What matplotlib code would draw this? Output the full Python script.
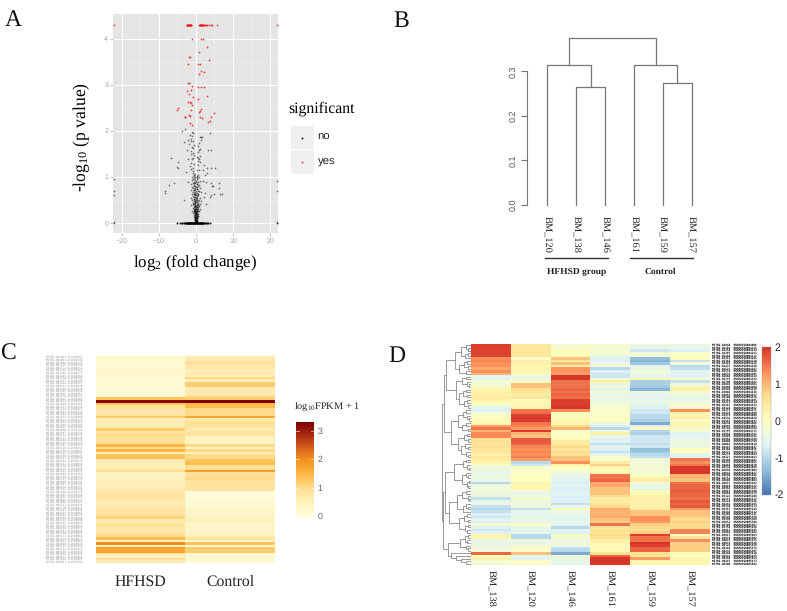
#!/usr/bin/env python3
import matplotlib
matplotlib.use("Agg")
import matplotlib.pyplot as plt
from matplotlib.colors import LinearSegmentedColormap
from matplotlib.patches import Rectangle
import numpy as np

plt.rcParams["text.hinting"] = "no_hinting"

W, H = 787, 611
SERIF = "Liberation Serif"
SANS = "Liberation Sans"
MONO = "DejaVu Sans Mono"

# panel A: volcano points
no_x = [
    -3.05, -3.6, -1.1, -0.8, 3.9, -1.5, -1.0, 1.0, 1.35, 1.6,
    -1.2, -2.2, -1.3, -0.9, 1.3, 0.9, -3.1, -1.8, -0.6, 0.7,
    -1.0, -0.7, 1.0, 0.8, -2.4, -1.2, 3.4, 4.2, 0.6, -0.9,
    -1.3, -0.5, 1.2, 0.4, -0.9, 0.6, -6.6, -2.1, -1.0, 0.8,
    0.5, 1.0, -4.7, -1.2, -0.4, 0.7, -1.6, 2.2, 3.1, -0.8,
    -5.0, -4.9, 5.2, 4.1, -1.3, 0.3, 0.9, -0.7, 1.8, 3.0,
    -2.6, -0.9, -0.3, 0.5, 2.4, -0.6, -1.0, 0.2, 0.9, -0.4,
    -0.7, 0.4, -1.1, 1.2, 0.1, -0.5, 1.9, 2.8, -2.0, 0.6,
    -0.9, -0.2, 0.3, -1.3, 0.8, -6.0, -7.3, -0.6, 4.2, 6.2,
    -0.4, 0.5, -1.0, 0.2, 1.1, -0.7, 4.3, 4.6, 6.1, -8.2,
    -0.3, 0.4, -1.2, -0.5, 0.1, 0.9, -8.3, -0.8, 1.4, 2.5,
    0.3, -0.3, -0.6, 0.7, -1.0, 0.05, 6.5, 7.1, 4.0, 4.8,
    -0.15, 0.5, -0.8, 0.25, -0.4, 1.0, -1.4, 0.1, 2.3, 3.9,
    -0.6, 0.35, -0.2, 0.75, -1.1, -3.1, 0.05, -0.45, 1.3, 0.5,
    -0.25, 0.15, -0.7, 0.6, -0.1, 0.3, -0.9, 1.0, 2.7, -0.35,
    0.2, -0.5, 0.45, -0.15, 0.05, -1.3, 0.8, -0.3, 0.3, -0.6,
    0.1, 0.55, -0.2, -0.85, 0.25, -0.05, 0.7, -0.4, 0.15, 1.2,
    -0.55, 0.35, -0.15, 0.0, 0.5, -0.3, -1.0, 0.2, -0.1, 0.85,
    -0.45, 0.1, 0.4, -0.2, -0.7, 0.25, 0.0, -0.35, 0.6, -0.05,
    0.15, -0.25, 0.3, -0.55, -0.1, 0.05, 0.45, -0.3, 0.2, -0.15,
    -0.4, 0.1, 0.3, -0.05, 0.0, -0.2, 0.2, -0.35, 0.4, 0.08,
    -0.1, -0.25, 0.15, 0.28, -0.02, -0.15, 0.05, 0.2, -0.3, 0.35,
    -0.2, 0.1, -0.08, 0.02, 0.18, -0.12, 0.26, -0.28, 0.06, -0.04,
    21.9, 21.9, 21.9, 21.9, -22.0, -22.0, -22.0, -22.0, 21.9, -22.0,
    -0.5, 0.2, -0.3, 0.4, -0.1, 0.1, -0.4, 0.3, -0.2, 0.0,
    -0.35, 0.25, -0.6, 0.45, -0.15, 0.15, -0.45, 0.35, -0.25, 0.05,
    -0.4, 0.3, -0.1, 0.2, -0.5, 0.5, -0.3, 0.1, -0.2, 0.4,
    -0.55, 0.15, -0.35, 0.25, -0.05, 0.45, -0.25, 0.35, -0.15, 0.05,
]
no_y = [
    2.03, 2.0, 1.98, 1.96, 1.96, 1.91, 1.89, 1.87, 1.86, 1.87,
    1.82, 1.8, 1.78, 1.78, 1.8, 1.74, 1.75, 1.72, 1.7, 1.68,
    1.65, 1.62, 1.6, 1.58, 1.58, 1.56, 1.58, 1.58, 1.55, 1.52,
    1.5, 1.48, 1.46, 1.44, 1.42, 1.4, 1.4, 1.39, 1.38, 1.38,
    1.35, 1.33, 1.32, 1.3, 1.28, 1.26, 1.24, 1.25, 1.2, 1.2,
    1.22, 1.2, 1.2, 1.2, 1.18, 1.16, 1.15, 1.12, 1.15, 1.08,
    1.1, 1.08, 1.06, 1.05, 1.05, 1.03, 1.0, 1.0, 1.0, 0.98,
    0.96, 0.95, 0.93, 0.92, 0.92, 0.9, 0.92, 0.9, 0.88, 0.88,
    0.86, 0.86, 0.85, 0.84, 0.83, 0.86, 0.82, 0.82, 0.86, 0.86,
    0.8, 0.8, 0.78, 0.78, 0.77, 0.76, 0.8, 0.8, 0.76, 0.7,
    0.74, 0.73, 0.72, 0.71, 0.7, 0.7, 0.66, 0.68, 0.68, 0.66,
    0.66, 0.65, 0.64, 0.63, 0.62, 0.61, 0.64, 0.62, 0.6, 0.62,
    0.6, 0.6, 0.58, 0.57, 0.56, 0.55, 0.55, 0.54, 0.56, 0.56,
    0.53, 0.52, 0.51, 0.5, 0.5, 0.5, 0.49, 0.48, 0.48, 0.47,
    0.46, 0.45, 0.44, 0.44, 0.43, 0.42, 0.42, 0.42, 0.42, 0.41,
    0.4, 0.39, 0.38, 0.38, 0.37, 0.38, 0.36, 0.36, 0.35, 0.35,
    0.34, 0.34, 0.33, 0.33, 0.32, 0.31, 0.31, 0.3, 0.3, 0.3,
    0.29, 0.29, 0.28, 0.27, 0.27, 0.26, 0.27, 0.26, 0.25, 0.25,
    0.24, 0.24, 0.23, 0.23, 0.22, 0.22, 0.21, 0.21, 0.2, 0.2,
    0.19, 0.19, 0.18, 0.18, 0.17, 0.17, 0.16, 0.16, 0.15, 0.15,
    0.14, 0.14, 0.13, 0.13, 0.12, 0.12, 0.11, 0.11, 0.1, 0.1,
    0.09, 0.09, 0.08, 0.08, 0.07, 0.07, 0.06, 0.06, 0.06, 0.05,
    0.05, 0.05, 0.04, 0.04, 0.04, 0.03, 0.03, 0.03, 0.02, 0.02,
    0.92, 0.7, 0.0, 0.01, 0.95, 0.7, 0.0, 0.6, 0.02, 0.02,
    1.05, 1.02, 0.99, 0.97, 0.94, 0.9, 0.87, 0.84, 0.81, 0.79,
    0.76, 0.74, 0.72, 0.69, 0.67, 0.64, 0.62, 0.59, 0.57, 0.55,
    0.52, 0.5, 0.47, 0.45, 0.43, 0.4, 0.37, 0.34, 0.31, 0.28,
    0.26, 0.24, 0.22, 0.2, 0.18, 0.16, 0.13, 0.11, 0.08, 0.06,
]
zero_x = [
    -5.0, -4.2, -3.8, -3.6, -3.2, -3.0, -2.8, -2.6, -2.5, -2.4,
    -2.3, -2.2, -2.1, -2.0, -1.9, -1.8, -1.7, -1.6, -1.5, -1.4,
    -1.3, -1.2, -1.1, -1.0, -0.9, -0.8, -0.7, -0.6, -0.5, -0.4,
    -0.3, -0.2, -0.1, 0.0, 0.1, 0.2, 0.3, 0.4, 0.5, 0.6,
    0.7, 0.8, 0.9, 1.0, 1.1, 1.2, 1.3, 1.4, 1.5, 1.6,
    1.7, 1.8, 1.9, 2.0, 2.2, 2.4, 2.6, 2.9, 3.2, 3.7,
]
zero_y = [0.0] * len(zero_x)
yes_x = [
    -1.0, 1.45, 1.8, 3.0, 0.9, -1.5, -1.8, 3.5, -2.1, 0.7,
    1.2, 1.4, 2.2, 0.9, -2.1, -1.8, -1.1, 0.7, 1.4, 2.2,
    -2.4, -1.2, -1.8, -0.9, 3.05, 0.7, -2.1, -1.5, -1.25, -1.1,
    -4.8, -5.0, -1.3, 1.45, 0.9, 4.95, -1.8, -1.45, -3.05, 1.2,
    3.95, 1.7, 3.7, 3.3, -1.7, -1.1, -2.8, 1.0, -2.5, -2.4,
    -2.3, -2.2, -2.1, -2.0, -1.9, -1.8, -1.7, -1.6, -1.5, -1.4,
    -1.3, -1.2, 0.9, 1.0, 1.1, 1.2, 1.3, 1.4, 1.5, 1.6,
    1.7, 1.8, 1.9, 2.0, 2.2, 2.5, 2.8, 3.1, 3.5, 4.0,
    4.4, 5.8, -22.0, 21.9,
]
yes_y = [
    4.0, 4.0, 4.0, 3.82, 3.7, 3.6, 3.6, 3.53, 3.46, 3.46,
    3.46, 3.3, 3.27, 3.23, 3.04, 3.03, 2.97, 2.96, 2.94, 2.96,
    2.86, 2.88, 2.79, 2.74, 2.75, 2.7, 2.63, 2.63, 2.61, 2.55,
    2.5, 2.45, 2.45, 2.47, 2.41, 2.38, 2.34, 2.33, 2.29, 2.29,
    2.31, 2.27, 2.22, 2.2, 2.18, 2.13, 2.31, 2.42, 4.3, 4.3,
    4.3, 4.3, 4.3, 4.3, 4.3, 4.3, 4.3, 4.3, 4.3, 4.3,
    4.3, 4.3, 4.3, 4.3, 4.3, 4.3, 4.3, 4.3, 4.3, 4.3,
    4.3, 4.3, 4.3, 4.3, 4.3, 4.3, 4.3, 4.3, 4.3, 4.3,
    4.3, 4.3, 4.3, 4.3,
]

# panel B: sample clustering
b_samples = ["BM_120", "BM_138", "BM_146", "BM_161", "BM_159", "BM_157"]
b_merge_heights = {"m138_146": 0.265, "hfhsd": 0.314, "m159_157": 0.274, "control": 0.3135, "root": 0.375}
b_ticks = [0.0, 0.1, 0.2, 0.3]

# panel C: mean expression per gene
c_groups = ["HFHSD", "Control"]
c_hfhsd = [
    0.15, 0.15, 0.15, 0.2, 0.15, 0.25, 0.2, 0.25, 0.1, 0.1,
    0.1, 0.1, 0.05, 0.05, 0.05, 0.05, 1.3, 3.2, 1.3, 0.9,
    0.8, 0.6, 0.7, 1.2, 0.5, 0.6, 0.5, 0.7, 1.2, 0.8,
    1.0, 0.9, 0.8, 0.9, 1.5, 1.0, 1.5, 0.6, 1.3, 1.4,
    0.6, 0.5, 0.5, 0.6, 0.9, 0.4, 0.4, 0.5, 0.5, 0.5,
    0.5, 0.6, 0.8, 0.8, 0.8, 0.7, 0.6, 0.6, 0.7, 0.8,
    0.8, 0.9, 1.1, 0.6, 0.7, 0.9, 0.7, 0.7, 0.8, 1.0,
    1.4, 0.5, 2.0, 0.5, 1.7, 1.7, 0.7, 0.4, 0.9, 0.6,
]
c_control = [
    0.6, 0.6, 0.9, 0.7, 0.7, 0.5, 0.6, 0.6, 1.0, 0.5,
    1.2, 1.2, 0.6, 0.6, 0.6, 0.9, 1.2, 3.3, 1.5, 1.4,
    1.0, 1.0, 1.0, 1.7, 0.6, 0.9, 0.9, 0.8, 0.6, 0.8,
    0.8, 0.4, 0.4, 0.4, 1.0, 0.5, 1.0, 0.5, 1.0, 1.0,
    1.3, 1.4, 0.9, 0.9, 1.8, 0.9, 0.9, 1.0, 0.8, 0.8,
    0.8, 0.8, 0.05, 0.05, 0.05, 0.05, 0.15, 0.15, 0.15, 0.3,
    0.3, 0.3, 0.4, 0.5, 0.2, 0.3, 0.3, 0.3, 0.4, 0.5,
    0.8, 0.3, 1.3, 0.3, 1.2, 1.2, 0.2, 0.2, 0.2, 0.1,
]
c_ticks = [0, 1, 2, 3]

# panel D: z-scores per sample, row order as drawn
d_samples = ["BM_138", "BM_120", "BM_146", "BM_161", "BM_159", "BM_157"]
d_138 = [
    1.9, 1.9, 1.85, 1.85, 1.85, 1.3, 1.4, 1.3, 1.3, 1.1,
    1.3, 1.0, -0.5, -0.6, -0.2, -0.3, 0.1, 0.2, 0.3, 0.3,
    0.4, 0.3, 0.1, -0.1, -0.6, -0.7, -0.2, -0.1, 0.1, 0.1,
    0.15, 1.2, 1.5, 1.0, 1.35, 1.35, 0.6, 0.6, 0.5, 0.6,
    0.5, 0.5, 0.3, 0.5, 0.4, 0.2, 0.0, -0.4, -0.3, -0.5,
    -0.4, -0.3, -0.5, -1.0, -0.4, -0.3, -0.3, -0.4, -0.4, -0.9,
    -0.5, -0.5, -0.9, -1.0, -0.9, -0.7, -0.8, -0.6, -0.7, -0.2,
    -0.7, -0.8, -0.7, 0.2, 0.2, -0.4, -0.5, -0.4, -0.4, -0.3,
    1.6, 0.1, 0.2, -0.2, -0.2,
]
d_120 = [
    0.5, 0.5, 0.5, 0.5, 0.5, -0.1, 0.3, 0.3, 0.2, 0.2,
    0.15, 0.1, -0.4, -0.4, -0.1, 0.9, 0.9, 0.6, 0.5, 0.4,
    0.5, 0.0, 0.2, 0.2, 0.2, 1.5, 1.5, 1.9, 1.95, 1.9,
    1.5, 1.4, 1.2, 1.9, 1.0, 0.9, 1.7, 1.7, 1.6, 1.4,
    1.3, 1.4, 1.3, 1.4, 1.2, -1.0, -0.8, -0.1, -0.1, -0.1,
    0.0, -0.05, 0.0, 0.2, 0.2, 0.2, -0.3, -0.5, -0.4, -0.2,
    -0.4, -0.3, -0.4, -0.9, -0.5, -0.6, -0.5, -0.5, -0.5, -0.1,
    -0.5, -0.6, -0.5, -1.0, -1.0, -0.4, -0.5, -0.3, -0.1, -0.1,
    0.9, -0.6, -0.6, -0.1, -0.1,
]
d_146 = [
    -0.2, -0.2, 0.1, 0.1, 0.1, 0.9, 0.5, 0.9, 0.4, 1.25,
    1.25, 1.2, 1.95, 1.95, 1.5, 1.5, 1.5, 1.6, 1.5, 1.6,
    1.55, 1.9, 1.9, 1.9, 1.95, 1.3, 0.0, 0.0, 0.1, 0.2,
    0.2, 0.7, 1.0, -0.1, -0.1, 0.0, 0.1, 0.4, 0.4, 0.7,
    0.5, 0.7, 0.6, 0.9, 0.9, 1.3, 0.3, 0.0, -0.1, -0.3,
    -0.5, -0.5, -0.6, -0.7, -0.6, -0.7, -0.7, -0.6, -0.7, -0.7,
    -0.7, -0.9, -0.5, 0.0, -0.4, -0.5, -0.6, -0.6, -0.5, -0.6,
    -1.0, -0.6, -0.7, 0.1, -0.3, -0.3, -0.4, -0.4, -0.9, -1.0,
    -1.5, -0.3, -0.4, -0.5, -0.5,
]
d_161 = [
    -0.2, -0.3, -0.2, -0.2, -0.4, -0.7, -0.7, -0.4, -0.2, -1.0,
    -0.7, -0.8, -0.8, -0.3, 0.3, -0.5, -0.3, -0.6, -0.2, -0.5,
    -0.4, -0.5, -0.3, -0.3, -0.2, -0.1, -0.1, -0.1, 0.0, 0.0,
    -0.4, -0.7, -1.0, -0.4, 0.3, -0.5, -0.7, -0.6, -0.9, -0.6,
    -0.7, -0.9, -0.6, -0.1, -0.1, 0.4, 0.8, 0.2, 0.1, 0.2,
    1.5, 1.5, 1.6, 1.1, 1.1, 0.9, 0.9, 0.9, 0.7, 0.4,
    0.4, 0.5, 0.7, 1.1, 1.0, 1.0, 1.1, 0.9, 0.8, 1.5,
    0.5, 0.6, 0.6, 0.7, 0.6, 0.3, 0.2, 0.1, 0.1, 0.1,
    0.6, 1.6, 1.95, 1.95, 1.95,
]
d_159 = [
    -0.4, -0.5, -0.8, -0.3, -0.2, -1.3, -1.4, -1.2, -0.6, -0.4,
    -0.3, -0.5, -0.5, 0.2, -1.1, -1.1, -1.2, -1.4, -0.4, -0.5,
    -0.6, -0.4, -0.5, -0.4, -0.7, -0.8, -0.8, -1.0, -1.0, -1.1,
    -1.5, -0.7, 0.0, -1.0, -1.1, -0.8, -0.8, -0.8, -0.9, -0.8,
    -1.3, -1.2, -1.0, -0.9, -0.3, -0.3, -0.2, -0.3, -0.3, -0.2,
    -0.1, 0.3, 0.4, -0.3, -0.4, -0.5, 0.0, 0.1, 0.3, 0.3,
    0.3, 0.3, 0.3, 0.4, 0.9, 0.9, 1.3, 1.3, 1.2, 0.8,
    0.7, 0.6, 0.8, 1.9, 1.5, 1.5, 1.95, 1.9, 1.6, 1.6,
    0.6, 0.5, 1.2, 0.2, 0.2,
]
d_157 = [
    -0.5, -0.4, -0.7, -0.1, -0.1, 0.05, -0.9, -0.3, -1.0, -0.9,
    -0.6, -0.6, -0.6, -0.2, -0.9, -0.4, 0.2, 0.3, -0.3, -0.3,
    -0.5, -0.5, -0.3, -0.2, -0.2, 1.3, 0.2, 0.2, 0.4, -0.1,
    0.2, 0.2, -0.2, -0.2, -0.6, -0.6, -0.4, -0.4, -0.4, -0.4,
    0.0, 0.0, -0.6, -0.7, 1.5, 1.3, 1.5, 1.95, 1.95, 1.95,
    1.0, 1.0, 0.9, 1.5, 1.6, 1.6, 1.7, 1.6, 1.6, 1.5,
    1.7, 1.6, 1.7, 1.2, 0.9, 0.9, 0.8, 0.7, 0.8, 0.7,
    0.7, 1.4, 1.4, -0.1, 0.5, 1.3, 0.8, 0.8, 0.8, 0.8,
    0.1, 0.0, 0.2, 0.2, 0.2,
]
d_ticks = [-2, -1, 0, 1, 2]

# panel D row tree: (height, left, right), 0 is a leaf
tree_a = (16.5, (10, (5, 0, (3, 0, 0)), (6, (3, 0, 0), 0)),
          (12, (7, (4, 0, 0), (3, 0, 0)), (5, 0, 0)))
tree_b = (15, (9, (5, 0, 0), (4, 0, (2, 0, 0))),
          (12, (8, (5, 0, 0), (4, 0, 0)), (7, (4, 0, 0), (3, 0, 0))))
tree_c = (13, (8, (5, 0, 0), (4, 0, (2, 0, 0))), (9, (5, 0, 0), (3, 0, 0)))
tree_d = (13, (7, (4, 0, 0), (3, 0, 0)), (10, (6, 0, (3, 0, 0)), (5, 0, (3, 0, 0))))
tree_e = (17, (8, (5, 0, 0), (4, 0, (2, 0, 0))),
          (9, (5, 0, (3, 0, 0)), (4, (2, 0, 0), (3, 0, 0))))
tree_f = (22, (14, (9, (5, 0, 0), (3, 0, (2, 0, 0))), (8, (5, 0, (3, 0, 0)), 0)),
          (12, (7, (4, 0, 0), (3, 0, 0)), (6, (3, 0, 0), (4, 0, 0))))
tree_g = (11, (6, (3, 0, 0), (4, 0, 0)), (5, 0, (3, 0, 0)))
tree_h = (20, 0, (15, 0, (10, 0, (5, 0, 0))))
d_tree = (29.5,
          (27, (25.5, tree_a, tree_b), (20.5, tree_c, tree_d)),
          (28.5, (26, tree_e, tree_f), (23, tree_g, tree_h)))


def axes_px(fig, x0, y0, x1, y1):
    return fig.add_axes([x0 / W, 1 - y1 / H, (x1 - x0) / W, (y1 - y0) / H])


def draw_tree(ax, node, rows):
    if node == 0:
        y = rows[0]
        rows[0] += 1
        return y, 0
    h, left, right = node
    y1, h1 = draw_tree(ax, left, rows)
    y2, h2 = draw_tree(ax, right, rows)
    ax.plot([-h1, -h, -h, -h2], [y1, y1, y2, y2], color="#8a8a8a", lw=0.6, solid_joinstyle="miter")
    return (y1 + y2) / 2, h


def panel_a(fig, page):
    ax = axes_px(fig, 113, 14.4, 277.6, 233.3)
    ax.set_facecolor("#e5e5e5")
    ax.set_xlim(-22.3, 22.0)
    ax.set_ylim(-0.223, 4.525)
    ax.set_xticks([-20, -10, 0, 10, 20], ["\u221220", "\u221210", "0", "10", "20"])
    ax.set_yticks([0, 1, 2, 3, 4])
    ax.set_xticks([-15, -5, 5, 15], minor=True)
    ax.set_yticks([0.5, 1.5, 2.5, 3.5], minor=True)
    ax.grid(True, which="major", color="white", lw=0.8)
    ax.grid(True, which="minor", color="#f2f2f2", lw=0.4)
    ax.set_axisbelow(True)
    for s in ax.spines.values():
        s.set_visible(False)
    ax.tick_params(which="major", length=2, width=0.5, color="#aaaaaa", labelcolor="#a0a0a0", labelsize=5, pad=1.5)
    ax.tick_params(which="minor", length=0)
    for t in ax.get_xticklabels() + ax.get_yticklabels():
        t.set_family(SANS)
    ax.scatter(no_x, no_y, s=1.6, c="black", alpha=0.5, linewidths=0)
    ax.scatter(zero_x, zero_y, s=2.2, c="black", alpha=0.85, linewidths=0)
    ax.scatter(yes_x, yes_y, s=1.8, c="#f01010", alpha=0.75, linewidths=0)

    page.text(82, 137, r"-log$\mathregular{_{10}}$ (p value)", rotation=90, family=SERIF, fontsize=12.7, ha="center", va="center")
    page.text(194.5, 263, r"log$\mathregular{_{2}}$ (fold change)", family=SERIF, fontsize=12.2, ha="center", va="center")
    page.text(288, 109, "significant", family=SERIF, fontsize=11.3, ha="left", va="center")
    for y0, label, colour in [(125.7, "no", "#333333"), (150, "yes", "#f06060")]:
        page.add_patch(Rectangle((291, y0), 23.3, 23.7, facecolor="#f0f0f0", edgecolor="none"))
        page.plot([302.3], [y0 + 11.8], "o", ms=1.5, mew=0, color=colour)
        page.text(317.5, y0 + 11.5, label, family=SANS, fontsize=8.2, color="#222222", ha="left", va="center")


def panel_b(fig, page):
    ax = axes_px(fig, 526.7, 37, 700, 205)
    ax.patch.set_alpha(0)
    x_per_leaf = 28.88
    ax.set_xlim(1 - (547.3 - 526.7) / x_per_leaf, 1 + (700 - 547.3) / x_per_leaf)
    ax.set_ylim(0, 168 / (133.7 / 0.3))
    grey = "#777777"

    def link(x1, y1, x2, y2, top):
        ax.plot([x1, x1, x2, x2], [y1, top, top, y2], color=grey, lw=0.9, clip_on=False)

    h = b_merge_heights
    link(2, 0, 3, 0, h["m138_146"])
    link(1, 0, 2.5, h["m138_146"], h["hfhsd"])
    link(5, 0, 6, 0, h["m159_157"])
    link(4, 0, 5.5, h["m159_157"], h["control"])
    link(1.75, h["hfhsd"], 4.75, h["control"], h["root"])

    for name in ["top", "right", "bottom"]:
        ax.spines[name].set_visible(False)
    ax.spines["left"].set_color(grey)
    ax.spines["left"].set_linewidth(0.8)
    ax.spines["left"].set_bounds(0, 0.3)
    ax.set_xticks(range(1, 7), b_samples, rotation=-90, family=SERIF, fontsize=7.5)
    ax.tick_params(axis="x", length=0, pad=8, labelcolor="#222222")
    ax.set_yticks(b_ticks, [f"{v:.1f}" for v in b_ticks], rotation=90, va="center", family=SANS, fontsize=6.5)
    ax.tick_params(axis="y", length=4.5, width=0.8, color=grey, labelcolor="#555555", pad=2)

    page.plot([545, 608], [257.7, 257.7], color="#333333", lw=1.0)
    page.plot([630, 693], [257.7, 257.7], color="#333333", lw=1.0)
    page.text(577, 271.7, "HFHSD group", family=SERIF, weight="bold", fontsize=6.8, ha="center", va="center", color="#222222")
    page.text(660, 271.7, "Control", family=SERIF, weight="bold", fontsize=6.8, ha="center", va="center", color="#222222")


def panel_c(fig, page):
    cmap = LinearSegmentedColormap.from_list("fpkm", [
        (0.0, "#ffffdf"), (0.5 / 3.37, "#fff2bf"), (1.0 / 3.37, "#ffdf95"), (1.6 / 3.37, "#feb53c"),
        (2.1 / 3.37, "#f28c1e"), (2.6 / 3.37, "#c8521a"), (3.0 / 3.37, "#a02212"), (1.0, "#7f0000"),
    ])
    ax = axes_px(fig, 96, 356.3, 275, 563.3)
    data = np.array([c_hfhsd, c_control]).T
    im = ax.imshow(data, aspect="auto", cmap=cmap, vmin=-0.07, vmax=3.3, interpolation="nearest")
    ax.set_xticks([0, 1], c_groups, family=SERIF, fontsize=11.3)
    ax.set_yticks([])
    ax.tick_params(axis="x", length=0, pad=8, labelcolor="#222222")
    for s in ax.spines.values():
        s.set_visible(False)

    # row names are too small to read in the figure, the block only has to look the same
    row_h = (563.3 - 356.3) / len(c_hfhsd)
    for i in range(len(c_hfhsd)):
        page.text(46, 356.3 + (i + 0.5) * row_h, f"MSTRG.{i * 37 + 1024:06d} XLOC{i * 11 + 207:05d}", family=MONO,
                  fontsize=2.0, color="#9a9a9a", ha="left", va="center")

    cax = axes_px(fig, 295.7, 422.3, 314.3, 518)
    cb = fig.colorbar(im, cax=cax)
    cb.outline.set_visible(False)
    cb.set_ticks(c_ticks)
    cax.tick_params(length=0, pad=2.5, labelcolor="#666666", labelsize=6.3)
    for t in cax.get_yticklabels():
        t.set_family(SANS)
    for v in c_ticks:
        cax.plot([0, 0.2], [v, v], color="white", lw=0.5, alpha=0.8, transform=cax.get_yaxis_transform())
        cax.plot([0.8, 1], [v, v], color="white", lw=0.5, alpha=0.8, transform=cax.get_yaxis_transform())
    page.text(293.7, 407, r"log$\mathregular{_{10}}$FPKM + 1", family=SERIF, fontsize=7.4, ha="left", va="center", color="#222222")


def panel_d(fig, page):
    cmap = LinearSegmentedColormap.from_list("zscore", ["#4575b4", "#91bfdb", "#e0f3f8", "#ffffbf", "#fee090", "#fc8d59", "#d73027"])
    ax = axes_px(fig, 471, 344, 710, 565)
    data = np.array([d_138, d_120, d_146, d_161, d_159, d_157]).T
    im = ax.imshow(data, aspect="auto", cmap=cmap, vmin=-2, vmax=2, interpolation="nearest")
    ax.set_xticks(range(6), d_samples, rotation=-90, family=SERIF, fontsize=7.5)
    ax.set_yticks([])
    ax.tick_params(axis="x", length=0, pad=3.5, labelcolor="#222222")
    for s in ax.spines.values():
        s.set_visible(False)

    tree_ax = axes_px(fig, 440.5, 344, 471, 565)
    tree_ax.set_xlim(-30.5, 0)
    tree_ax.set_ylim(data.shape[0] - 0.5, -0.5)
    tree_ax.axis("off")
    draw_tree(tree_ax, d_tree, [0])

    row_h = (565 - 344) / data.shape[0]
    for i in range(data.shape[0]):
        page.text(711.7, 344 + (i + 0.5) * row_h, f"MSTRG.{i * 53 + 2048:05d}  ENSMUSG{i * 19 + 4096:07d}", family=MONO,
                  weight="bold", fontsize=2.0, color="black", ha="left", va="center")

    cax = axes_px(fig, 762.3, 346.7, 770.7, 494.5)
    cb = fig.colorbar(im, cax=cax)
    cb.outline.set_linewidth(0.3)
    cb.outline.set_edgecolor("#999999")
    cb.set_ticks(d_ticks, labels=["-2", "-1", "0", "1", "2"])
    cax.tick_params(length=0, pad=2.5, labelcolor="#222222", labelsize=7.6)
    for t in cax.get_yticklabels():
        t.set_family(SANS)


def main():
    fig = plt.figure(figsize=(W / 100, H / 100), dpi=100, facecolor="white")
    page = fig.add_axes([0, 0, 1, 1], zorder=5)
    page.set_xlim(0, W)
    page.set_ylim(H, 0)
    page.axis("off")

    panel_a(fig, page)
    panel_b(fig, page)
    panel_c(fig, page)
    panel_d(fig, page)

    for label, x, y in [("A", 5, 26.5), ("B", 393, 27), ("C", 0, 360), ("D", 388, 362)]:
        page.text(x, y, label, family=SERIF, fontsize=17, ha="left", va="baseline", color="#111111")

    fig.savefig("out.png", dpi=100, facecolor="white")
    plt.close(fig)


if __name__ == "__main__":
    main()
